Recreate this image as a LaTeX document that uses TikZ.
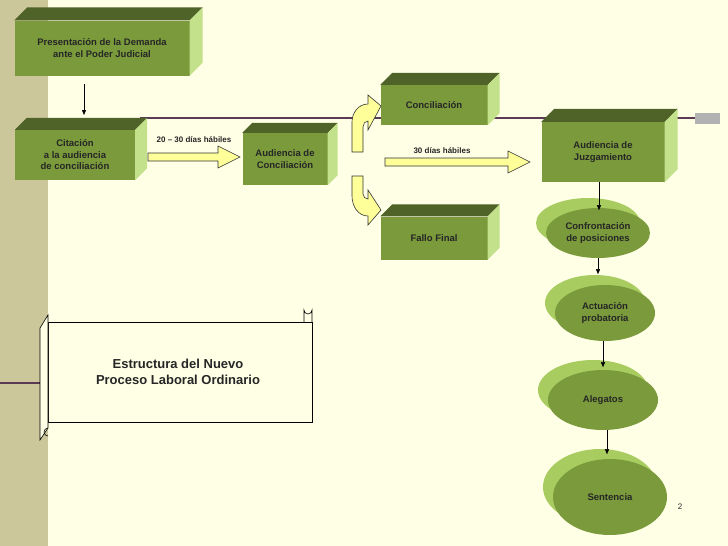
\documentclass[tikz,border=0pt]{standalone}
\usepackage{fontspec}
\setmainfont{Liberation Sans}
\usetikzlibrary{arrows.meta, positioning, calc, shapes.geometric}

\definecolor{paper}{HTML}{FFFFE6}
\definecolor{band}{HTML}{CCC79B}
\definecolor{front}{HTML}{7A9A3C}
\definecolor{topface}{HTML}{4F6228}
\definecolor{sideface}{HTML}{C3E08A}
\definecolor{ghost}{HTML}{A8CC60}
\definecolor{arrowfill}{HTML}{FFFF99}
\definecolor{rule}{HTML}{5A3A55}

\tikzset{
  cube/.style = {fill=front, minimum width=#1, inner sep=2pt, align=center,
    font=\fontsize{9.5}{11.5}\selectfont\bfseries},
  oval/.style = {ellipse, fill=front, align=center, inner sep=0pt,
    font=\fontsize{9.5}{11.5}\selectfont\bfseries},
  flow/.style = {-{Triangle[length=5pt,width=4pt]}, thin},
  fat/.style  = {draw=black!80, fill=arrowfill, line width=0.6pt},
}
% top and side faces of a box
\newcommand\faces[2]{%
  \fill[topface] (#1.north west) -- ++(#2,-#2) -- ($(#1.north east)+(#2,-#2)$) -- (#1.north east) -- cycle;
  \fill[sideface] (#1.north east) -- ++(#2,-#2) -- ($(#1.south east)+(#2,-#2)$) -- (#1.south east) -- cycle;}
% flat block arrow pointing right
\newcommand\blockarrow[3]{%
  \draw[fat] ($(#1)+(0,-4)$) -- ($(#2)+(-22,-4)$) -- ($(#2)+(-22,-#3)$) -- (#2)
    -- ($(#2)+(-22,#3)$) -- ($(#2)+(-22,4)$) -- ($(#1)+(0,4)$) -- cycle;}

\begin{document}
\begin{tikzpicture}[x=1pt, y=-1pt, every node/.style={text=black!85}]
  \useasboundingbox (0,0) rectangle (728,546);
  \fill[paper] (0,0) rectangle (728,546);
  \fill[band] (0,0) rectangle (48,546);
  \draw[rule, line width=1.2pt] (140,118) -- (700,118);
  \fill[black!30] (695,113) rectangle (720,124);
  \draw[rule, line width=1.2pt] (0,383) -- (48,383);

  % boxes
  \node (demanda) [cube=175pt, minimum height=55pt] at (102,48)
    {Presentación de la Demanda\\ante el Poder Judicial};
  \node (citacion) [cube=120pt, minimum height=50pt] at (75,155)
    {Citación\\a la audiencia\\de conciliación};
  \node (audconc) [cube=85pt, minimum height=52pt] at (285,159)
    {Audiencia de\\Conciliación};
  \node (concil) [cube=107pt, minimum height=40pt] at (434,105) {Conciliación};
  \node (fallo) [cube=107pt, minimum height=43pt] at (434,238) {Fallo Final};
  \node (juzga) [cube=123pt, minimum height=60pt] at (603,152)
    {Audiencia de\\Juzgamiento};
  \faces{demanda}{13}
  \faces{citacion}{12}
  \faces{audconc}{10}
  \faces{concil}{12}
  \faces{fallo}{12}
  \faces{juzga}{13}

  % ovals with their shadows
  \foreach \cx/\cy/\w/\h in {598/233/104/50, 605/313/100/56, 603/400/110/60, 610/497/114/76}
    \fill[ghost] (\cx-10,\cy-10) ellipse ({\w/2} and {\h/2});
  \node (confront) [oval, minimum width=104pt, minimum height=50pt] at (598,233)
    {Confrontación\\de posiciones};
  \node (actuacion) [oval, minimum width=100pt, minimum height=56pt] at (605,313)
    {Actuación\\probatoria};
  \node (alegatos) [oval, minimum width=110pt, minimum height=60pt] at (603,400) {Alegatos};
  \node (sentencia) [oval, minimum width=114pt, minimum height=76pt] at (610,497) {Sentencia};

  % thin connectors
  \coordinate (d0) at (84,84);
  \draw[flow] (d0) -- (84,115);
  \draw[flow] (juzga.south) ++(-4,0) -- ++(0,28);
  \draw[flow] (confront.south) -- ++(0,16);
  \draw[flow] (actuacion.south) ++(-2,0) -- ++(0,26);
  \draw[flow] (alegatos.south) ++(4,0) -- ++(0,24);

  % block arrows
  \coordinate (a1) at (148,157);
  \coordinate (b1) at (240,157);
  \blockarrow{a1}{b1}{11}
  \node (dias1) [font=\fontsize{8}{9}\selectfont\bfseries] at (194,140) {20 – 30 días hábiles};
  \coordinate (a2) at (385,162);
  \coordinate (b2) at (530,162);
  \blockarrow{a2}{b2}{11}
  \node (dias2) [font=\fontsize{8}{9}\selectfont\bfseries] at (442,151) {30 días hábiles};

  % curved arrows
  \draw[fat] (352,152) -- (352,122) to[out=90,in=180] (368,104) -- (368,95)
    -- (381,106) -- (368,130) -- (368,121) to[out=180,in=90] (363,127) -- (363,152) -- cycle;
  \draw[fat] (352,176) -- (352,196) to[out=-90,in=180] (368,216) -- (368,225)
    -- (381,210) -- (368,190) -- (368,199) to[out=180,in=-90] (363,194) -- (363,176) -- cycle;

  % scroll
  \draw[fill=paper, line width=0.6pt] (48,322) rectangle (312,422);
  \draw[fill=paper, line width=0.6pt] (48,322) -- (48,315) -- (40,328) -- (40,440) -- (48,428) -- (48,422) -- cycle;
  \draw[line width=0.6pt] (304,322) -- (304,310) arc (180:0:4) -- (312,322);
  \draw[line width=0.6pt] (48,428) arc (270:90:4);
  \node (titulo) [align=center, font=\fontsize{13}{16}\selectfont\bfseries]
    at (178,372) {Estructura del Nuevo\\Proceso Laboral Ordinario};
  \node (pagina) [font=\fontsize{8}{10}\selectfont] at (680,507) {2};
\end{tikzpicture}
\end{document}
